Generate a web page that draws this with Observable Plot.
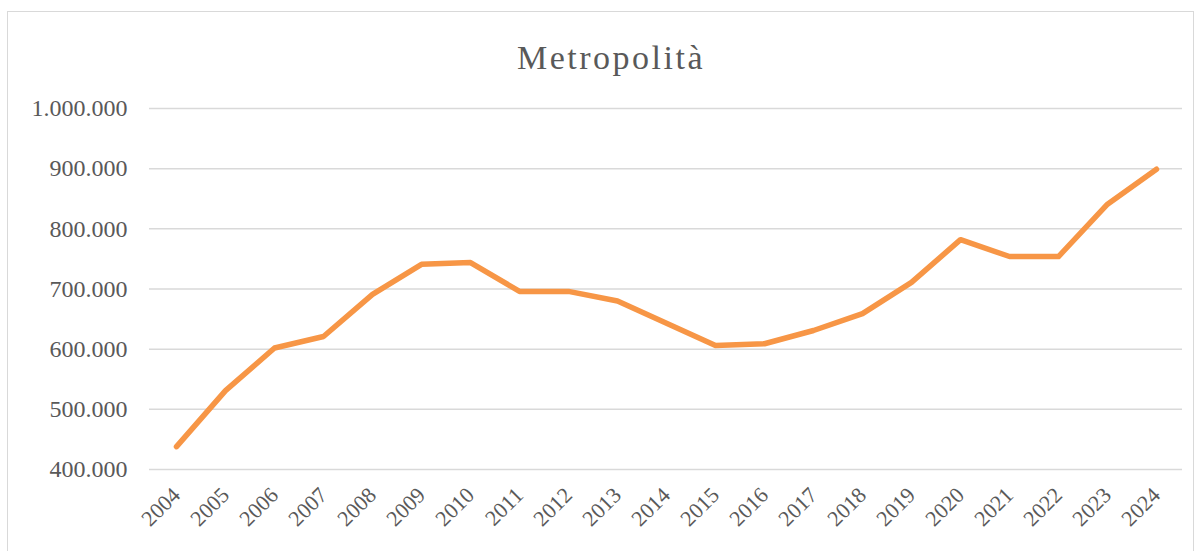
<!DOCTYPE html>
<html><head><meta charset="utf-8">
<script src="https://cdn.jsdelivr.net/npm/d3@7"></script>
<script src="https://cdn.jsdelivr.net/npm/@observablehq/plot@0.6"></script>
<style>
body{margin:0;background:#fff;}
#wrap{position:relative;width:1200px;height:551px;overflow:hidden;}
#frame{position:absolute;left:7px;top:11px;width:1187px;height:560px;border:1.5px solid #d9d9d9;box-sizing:border-box;}
#title{position:absolute;left:11px;width:1200px;top:39px;text-align:center;font-family:"Liberation Serif",serif;font-size:34px;letter-spacing:2.5px;color:#595959;line-height:1.1;}
#chart{position:absolute;left:0;top:0;}
</style></head>
<body>
<div id="wrap"><div id="frame"></div><div id="title">Metropolità</div><div id="chart"></div></div>
<script>
const years = ["2004","2005","2006","2007","2008","2009","2010","2011","2012","2013","2014","2015","2016","2017","2018","2019","2020","2021","2022","2023","2024"];
const values = [438000,531000,602000,621000,691000,741000,744000,696000,696000,680000,643000,606000,609000,631000,659000,711000,782000,754000,754000,841000,899000];
const yTicks = [400000,500000,600000,700000,800000,900000,1000000];
const data = years.map((y,i)=>({year:y,value:values[i]}));
const fmt = d => d3.format(",")(d).replace(/,/g,".");
const chart = Plot.plot({
  width:1200, height:551,
  marginLeft:149, marginRight:18, marginTop:108, marginBottom:82,
  style:{fontFamily:"Liberation Serif, serif", color:"#595959", background:"transparent", overflow:"visible"},
  x:{type:"point", domain:years, padding:0.5, label:null},
  y:{domain:[400000,1000000], ticks:yTicks, label:null},
  marks:[
    Plot.gridY(yTicks,{stroke:"#d9d9d9", strokeOpacity:1, strokeWidth:1.5}),
    Plot.axisY({ticks:yTicks, tickFormat:fmt, tickSize:0, tickPadding:22, fontSize:24, label:null, style:{letterSpacing:"1.5px"}}),
    Plot.axisX({tickSize:0, tickRotate:-45, tickPadding:22, fontSize:22, label:null, style:{letterSpacing:"1px"}}),
    Plot.line(data,{x:"year", y:"value", stroke:"#F79646", strokeWidth:5.5, strokeLinecap:"round", strokeLinejoin:"round"})
  ]
});
document.getElementById("chart").appendChild(chart);
</script>
</body></html>
